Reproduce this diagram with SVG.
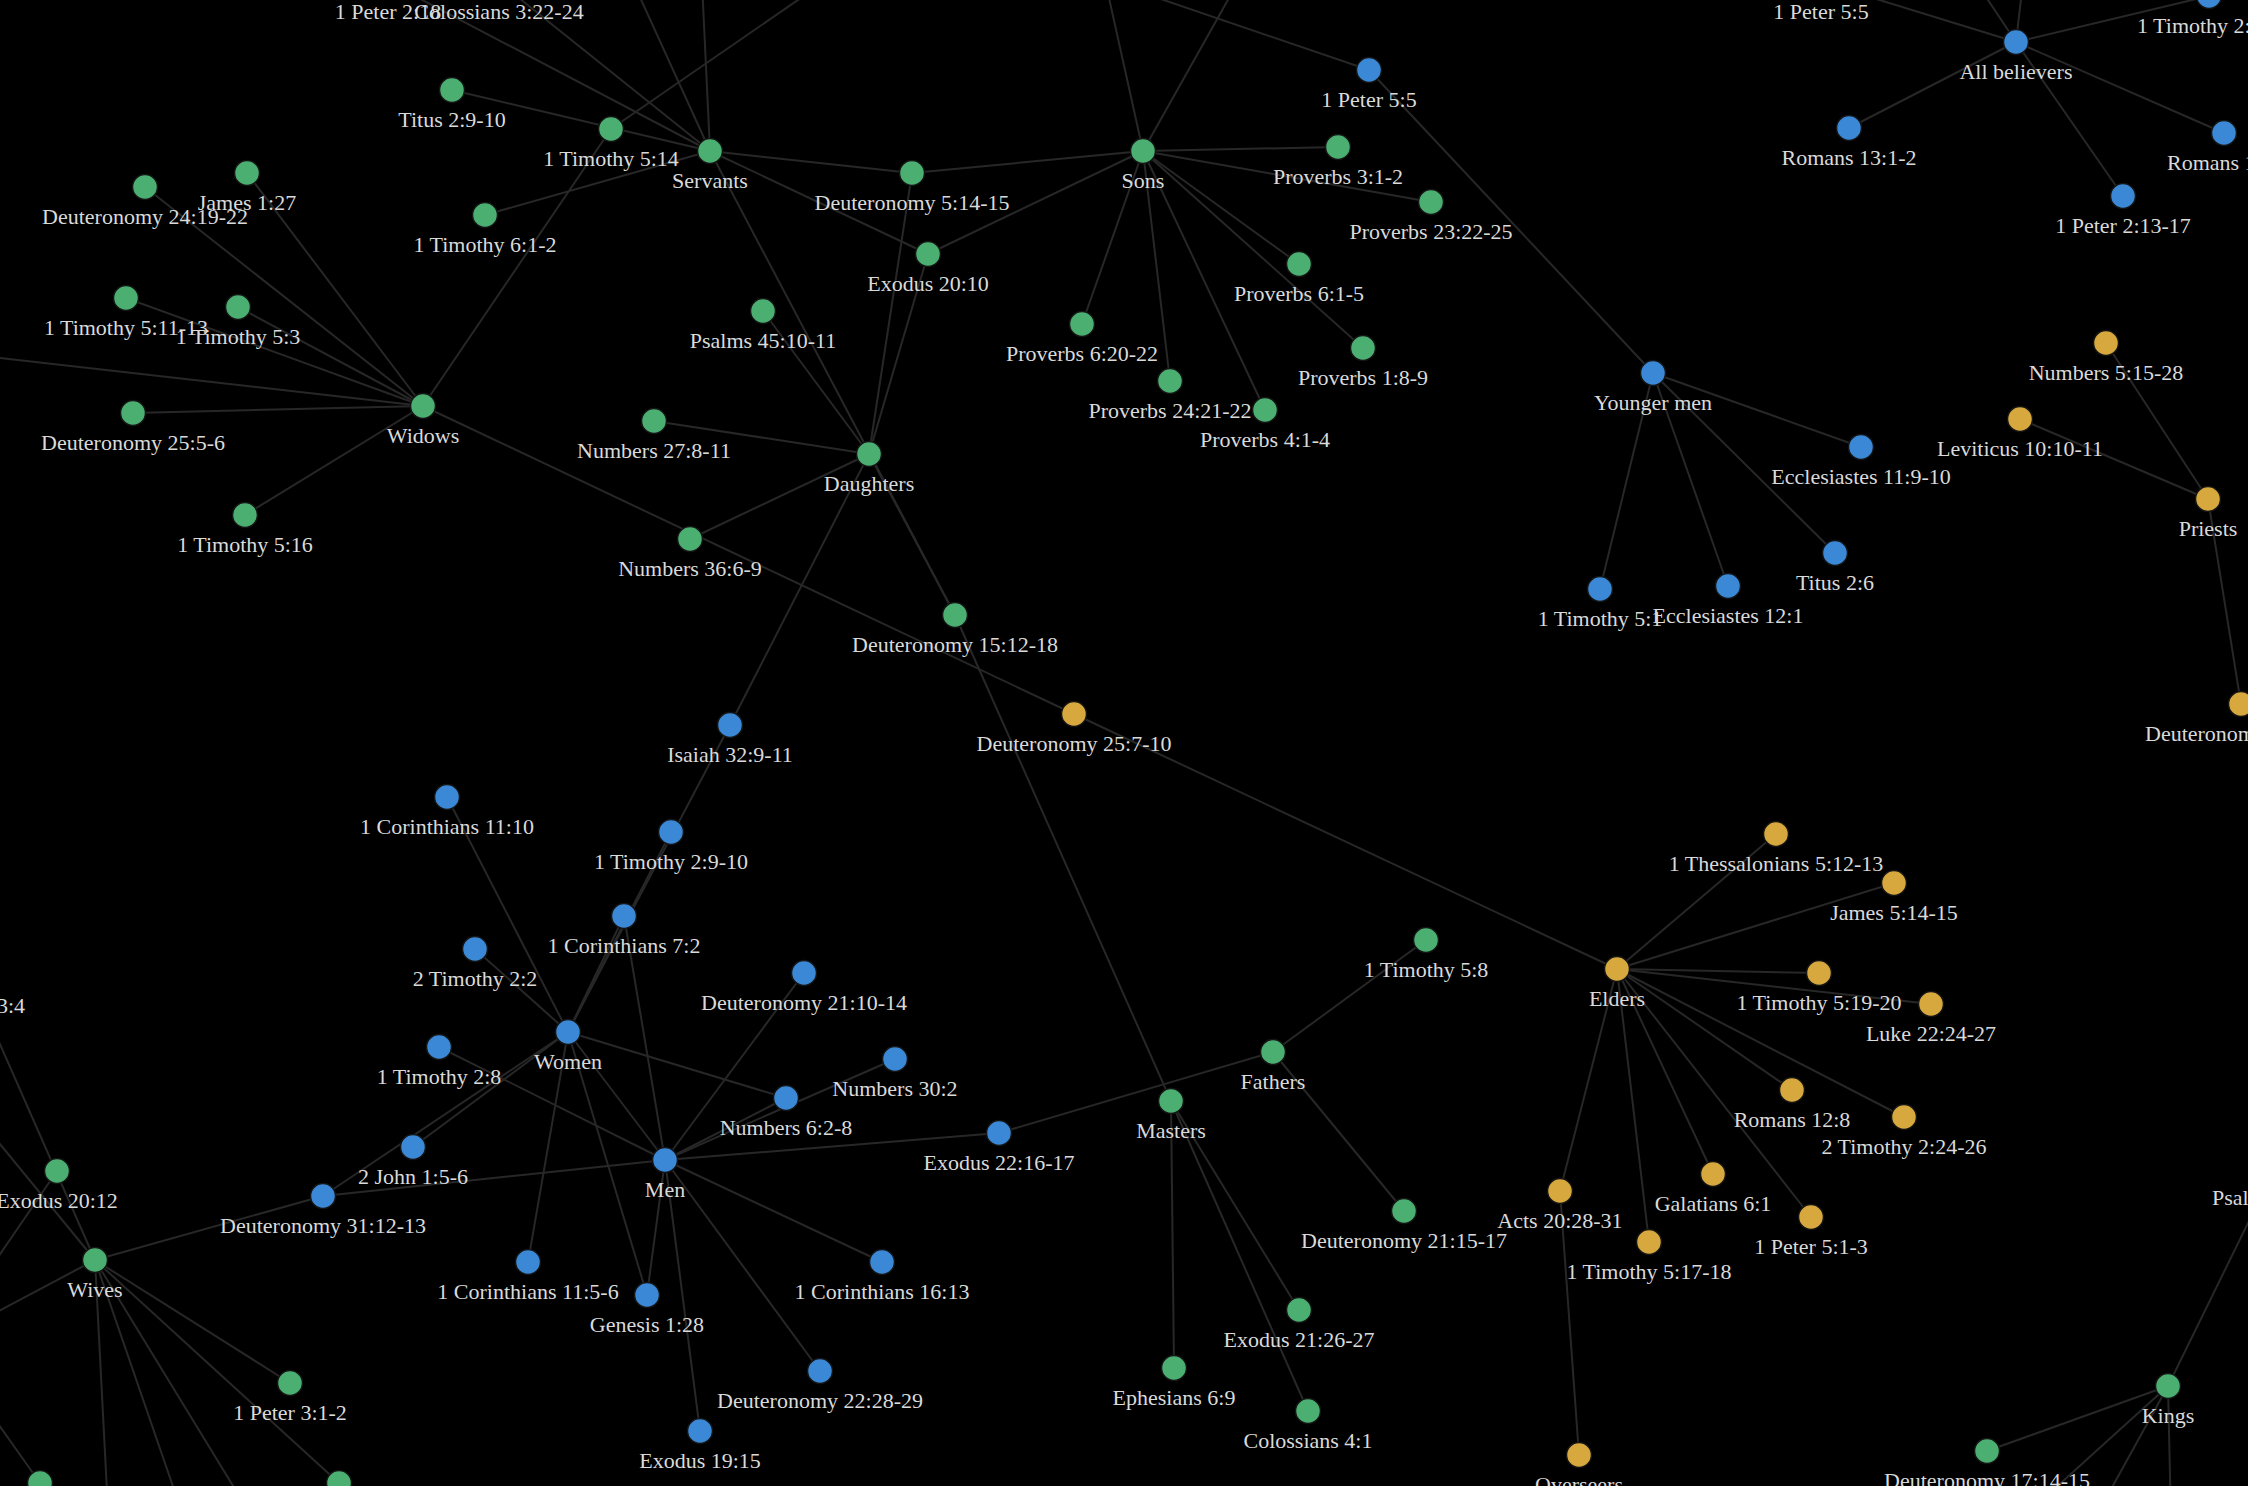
<svg xmlns="http://www.w3.org/2000/svg" width="2248" height="1486" viewBox="0 0 2248 1486">
<style>
.e{stroke:#272727;stroke-width:2;fill:none}
.g{fill:#4caf72;stroke:#151515;stroke-width:1.5}
.b{fill:#3a88d6;stroke:#151515;stroke-width:1.5}
.y{fill:#d6a83e;stroke:#151515;stroke-width:1.5}
.l{font-family:"Liberation Serif","DejaVu Serif",serif;font-size:22px;fill:#dadada;text-anchor:middle}
.s{text-anchor:start}
.n{text-anchor:end}
</style>
<rect width="2248" height="1486" fill="#000"/>
<g id="connectors">
<line class="e" x1="710" y1="151" x2="452" y2="90"/>
<line class="e" x1="710" y1="151" x2="485" y2="215"/>
<line class="e" x1="710" y1="151" x2="388" y2="-18"/>
<line class="e" x1="710" y1="151" x2="499" y2="-18"/>
<line class="e" x1="710" y1="151" x2="633" y2="-18"/>
<line class="e" x1="710" y1="151" x2="702" y2="-18"/>
<line class="e" x1="710" y1="151" x2="912" y2="173"/>
<line class="e" x1="710" y1="151" x2="928" y2="254"/>
<line class="e" x1="710" y1="151" x2="955" y2="615"/>
<line class="e" x1="423" y1="406" x2="247" y2="173"/>
<line class="e" x1="423" y1="406" x2="145" y2="187"/>
<line class="e" x1="423" y1="406" x2="126" y2="298"/>
<line class="e" x1="423" y1="406" x2="238" y2="307"/>
<line class="e" x1="423" y1="406" x2="133" y2="413"/>
<line class="e" x1="423" y1="406" x2="245" y2="515"/>
<line class="e" x1="423" y1="406" x2="-80" y2="349"/>
<line class="e" x1="423" y1="406" x2="611" y2="129"/>
<line class="e" x1="423" y1="406" x2="1074" y2="714"/>
<line class="e" x1="611" y1="129" x2="824" y2="-18"/>
<line class="e" x1="869" y1="454" x2="912" y2="173"/>
<line class="e" x1="869" y1="454" x2="928" y2="254"/>
<line class="e" x1="869" y1="454" x2="763" y2="311"/>
<line class="e" x1="869" y1="454" x2="654" y2="421"/>
<line class="e" x1="869" y1="454" x2="690" y2="539"/>
<line class="e" x1="869" y1="454" x2="955" y2="615"/>
<line class="e" x1="869" y1="454" x2="730" y2="725"/>
<line class="e" x1="1143" y1="151" x2="912" y2="173"/>
<line class="e" x1="1143" y1="151" x2="928" y2="254"/>
<line class="e" x1="1143" y1="151" x2="1338" y2="147"/>
<line class="e" x1="1143" y1="151" x2="1431" y2="202"/>
<line class="e" x1="1143" y1="151" x2="1299" y2="264"/>
<line class="e" x1="1143" y1="151" x2="1363" y2="348"/>
<line class="e" x1="1143" y1="151" x2="1082" y2="324"/>
<line class="e" x1="1143" y1="151" x2="1170" y2="381"/>
<line class="e" x1="1143" y1="151" x2="1265" y2="410"/>
<line class="e" x1="1143" y1="151" x2="1105" y2="-20"/>
<line class="e" x1="1143" y1="151" x2="1238" y2="-18"/>
<line class="e" x1="1369" y1="70" x2="1105" y2="-20"/>
<line class="e" x1="1369" y1="70" x2="1653" y2="373"/>
<line class="e" x1="1653" y1="373" x2="1861" y2="447"/>
<line class="e" x1="1653" y1="373" x2="1835" y2="553"/>
<line class="e" x1="1653" y1="373" x2="1600" y2="589"/>
<line class="e" x1="1653" y1="373" x2="1728" y2="586"/>
<line class="e" x1="2016" y1="42" x2="1821" y2="-18"/>
<line class="e" x1="2016" y1="42" x2="2209" y2="-4"/>
<line class="e" x1="2016" y1="42" x2="1849" y2="128"/>
<line class="e" x1="2016" y1="42" x2="2123" y2="196"/>
<line class="e" x1="2016" y1="42" x2="2224" y2="133"/>
<line class="e" x1="2016" y1="42" x2="1976" y2="-18"/>
<line class="e" x1="2016" y1="42" x2="2023" y2="-18"/>
<line class="e" x1="2208" y1="499" x2="2106" y2="343"/>
<line class="e" x1="2208" y1="499" x2="2020" y2="419"/>
<line class="e" x1="2208" y1="499" x2="2241" y2="704"/>
<line class="e" x1="955" y1="615" x2="1171" y2="1101"/>
<line class="e" x1="1074" y1="714" x2="1617" y2="969"/>
<line class="e" x1="1617" y1="969" x2="1776" y2="834"/>
<line class="e" x1="1617" y1="969" x2="1894" y2="883"/>
<line class="e" x1="1617" y1="969" x2="1819" y2="973"/>
<line class="e" x1="1617" y1="969" x2="1931" y2="1004"/>
<line class="e" x1="1617" y1="969" x2="1792" y2="1090"/>
<line class="e" x1="1617" y1="969" x2="1904" y2="1117"/>
<line class="e" x1="1617" y1="969" x2="1713" y2="1174"/>
<line class="e" x1="1617" y1="969" x2="1560" y2="1191"/>
<line class="e" x1="1617" y1="969" x2="1811" y2="1217"/>
<line class="e" x1="1617" y1="969" x2="1649" y2="1242"/>
<line class="e" x1="1560" y1="1191" x2="1579" y2="1455"/>
<line class="e" x1="1273" y1="1052" x2="1426" y2="940"/>
<line class="e" x1="1273" y1="1052" x2="1404" y2="1211"/>
<line class="e" x1="1273" y1="1052" x2="999" y2="1133"/>
<line class="e" x1="1171" y1="1101" x2="1174" y2="1368"/>
<line class="e" x1="1171" y1="1101" x2="1299" y2="1310"/>
<line class="e" x1="1171" y1="1101" x2="1308" y2="1411"/>
<line class="e" x1="2168" y1="1386" x2="1987" y2="1451"/>
<line class="e" x1="2168" y1="1386" x2="2275" y2="1168"/>
<line class="e" x1="2168" y1="1386" x2="2020" y2="1520"/>
<line class="e" x1="2168" y1="1386" x2="2094" y2="1520"/>
<line class="e" x1="2168" y1="1386" x2="2171" y2="1520"/>
<line class="e" x1="568" y1="1032" x2="730" y2="725"/>
<line class="e" x1="568" y1="1032" x2="671" y2="832"/>
<line class="e" x1="568" y1="1032" x2="624" y2="916"/>
<line class="e" x1="568" y1="1032" x2="447" y2="797"/>
<line class="e" x1="568" y1="1032" x2="475" y2="949"/>
<line class="e" x1="568" y1="1032" x2="413" y2="1147"/>
<line class="e" x1="568" y1="1032" x2="323" y2="1196"/>
<line class="e" x1="568" y1="1032" x2="786" y2="1098"/>
<line class="e" x1="568" y1="1032" x2="665" y2="1160"/>
<line class="e" x1="568" y1="1032" x2="528" y2="1262"/>
<line class="e" x1="568" y1="1032" x2="647" y2="1295"/>
<line class="e" x1="665" y1="1160" x2="624" y2="916"/>
<line class="e" x1="665" y1="1160" x2="804" y2="973"/>
<line class="e" x1="665" y1="1160" x2="895" y2="1059"/>
<line class="e" x1="665" y1="1160" x2="786" y2="1098"/>
<line class="e" x1="665" y1="1160" x2="999" y2="1133"/>
<line class="e" x1="665" y1="1160" x2="882" y2="1262"/>
<line class="e" x1="665" y1="1160" x2="820" y2="1371"/>
<line class="e" x1="665" y1="1160" x2="700" y2="1431"/>
<line class="e" x1="665" y1="1160" x2="647" y2="1295"/>
<line class="e" x1="665" y1="1160" x2="439" y2="1047"/>
<line class="e" x1="665" y1="1160" x2="323" y2="1196"/>
<line class="e" x1="95" y1="1260" x2="323" y2="1196"/>
<line class="e" x1="95" y1="1260" x2="290" y2="1383"/>
<line class="e" x1="95" y1="1260" x2="339" y2="1483"/>
<line class="e" x1="95" y1="1260" x2="109" y2="1530"/>
<line class="e" x1="95" y1="1260" x2="188" y2="1530"/>
<line class="e" x1="95" y1="1260" x2="260" y2="1530"/>
<line class="e" x1="95" y1="1260" x2="-30" y2="976"/>
<line class="e" x1="95" y1="1260" x2="-60" y2="1071"/>
<line class="e" x1="95" y1="1260" x2="-60" y2="1342"/>
<line class="e" x1="57" y1="1171" x2="-60" y2="1342"/>
<line class="e" x1="40" y1="1483" x2="-60" y2="1342"/>
</g>
<g id="n-servants"><circle class="g" cx="710" cy="151" r="12.5"/><text class="l" x="710" y="188">Servants</text></g>
<g id="n-sons"><circle class="g" cx="1143" cy="151" r="12.5"/><text class="l" x="1143" y="188">Sons</text></g>
<g id="n-widows"><circle class="g" cx="423" cy="406" r="12.5"/><text class="l" x="423" y="443">Widows</text></g>
<g id="n-daughters"><circle class="g" cx="869" cy="454" r="12.5"/><text class="l" x="869" y="491">Daughters</text></g>
<g id="n-wives"><circle class="g" cx="95" cy="1260" r="12.5"/><text class="l" x="95" y="1297">Wives</text></g>
<g id="n-masters"><circle class="g" cx="1171" cy="1101" r="12.5"/><text class="l" x="1171" y="1138">Masters</text></g>
<g id="n-fathers"><circle class="g" cx="1273" cy="1052" r="12.5"/><text class="l" x="1273" y="1089">Fathers</text></g>
<g id="n-kings"><circle class="g" cx="2168" cy="1386" r="12.5"/><text class="l" x="2168" y="1423">Kings</text></g>
<g id="n-col3"><circle class="g" cx="499" cy="-18" r="12.5"/><text class="l" x="499" y="19">Colossians 3:22-24</text></g>
<g id="n-1pet218"><circle class="g" cx="388" cy="-18" r="12.5"/><text class="l" x="388" y="19">1 Peter 2:18</text></g>
<g id="n-titus29"><circle class="g" cx="452" cy="90" r="12.5"/><text class="l" x="452" y="127">Titus 2:9-10</text></g>
<g id="n-1tim514"><circle class="g" cx="611" cy="129" r="12.5"/><text class="l" x="611" y="166">1 Timothy 5:14</text></g>
<g id="n-1tim61"><circle class="g" cx="485" cy="215" r="12.5"/><text class="l" x="485" y="252">1 Timothy 6:1-2</text></g>
<g id="n-deut24"><circle class="g" cx="145" cy="187" r="12.5"/><text class="l" x="145" y="224">Deuteronomy 24:19-22</text></g>
<g id="n-james127"><circle class="g" cx="247" cy="173" r="12.5"/><text class="l" x="247" y="210">James 1:27</text></g>
<g id="n-1tim511"><circle class="g" cx="126" cy="298" r="12.5"/><text class="l" x="126" y="335">1 Timothy 5:11-13</text></g>
<g id="n-1tim53"><circle class="g" cx="238" cy="307" r="12.5"/><text class="l" x="238" y="344">1 Timothy 5:3</text></g>
<g id="n-deut255"><circle class="g" cx="133" cy="413" r="12.5"/><text class="l" x="133" y="450">Deuteronomy 25:5-6</text></g>
<g id="n-1tim516"><circle class="g" cx="245" cy="515" r="12.5"/><text class="l" x="245" y="552">1 Timothy 5:16</text></g>
<g id="n-deut514"><circle class="g" cx="912" cy="173" r="12.5"/><text class="l" x="912" y="210">Deuteronomy 5:14-15</text></g>
<g id="n-ex2010"><circle class="g" cx="928" cy="254" r="12.5"/><text class="l" x="928" y="291">Exodus 20:10</text></g>
<g id="n-ps45"><circle class="g" cx="763" cy="311" r="12.5"/><text class="l" x="763" y="348">Psalms 45:10-11</text></g>
<g id="n-num27"><circle class="g" cx="654" cy="421" r="12.5"/><text class="l" x="654" y="458">Numbers 27:8-11</text></g>
<g id="n-num36"><circle class="g" cx="690" cy="539" r="12.5"/><text class="l" x="690" y="576">Numbers 36:6-9</text></g>
<g id="n-deut1512"><circle class="g" cx="955" cy="615" r="12.5"/><text class="l" x="955" y="652">Deuteronomy 15:12-18</text></g>
<g id="n-prov31"><circle class="g" cx="1338" cy="147" r="12.5"/><text class="l" x="1338" y="184">Proverbs 3:1-2</text></g>
<g id="n-prov2322"><circle class="g" cx="1431" cy="202" r="12.5"/><text class="l" x="1431" y="239">Proverbs 23:22-25</text></g>
<g id="n-prov61"><circle class="g" cx="1299" cy="264" r="12.5"/><text class="l" x="1299" y="301">Proverbs 6:1-5</text></g>
<g id="n-prov18"><circle class="g" cx="1363" cy="348" r="12.5"/><text class="l" x="1363" y="385">Proverbs 1:8-9</text></g>
<g id="n-prov620"><circle class="g" cx="1082" cy="324" r="12.5"/><text class="l" x="1082" y="361">Proverbs 6:20-22</text></g>
<g id="n-prov2421"><circle class="g" cx="1170" cy="381" r="12.5"/><text class="l" x="1170" y="418">Proverbs 24:21-22</text></g>
<g id="n-prov41"><circle class="g" cx="1265" cy="410" r="12.5"/><text class="l" x="1265" y="447">Proverbs 4:1-4</text></g>
<g id="n-1tim58"><circle class="g" cx="1426" cy="940" r="12.5"/><text class="l" x="1426" y="977">1 Timothy 5:8</text></g>
<g id="n-deut2115"><circle class="g" cx="1404" cy="1211" r="12.5"/><text class="l" x="1404" y="1248">Deuteronomy 21:15-17</text></g>
<g id="n-ex2126"><circle class="g" cx="1299" cy="1310" r="12.5"/><text class="l" x="1299" y="1347">Exodus 21:26-27</text></g>
<g id="n-eph69"><circle class="g" cx="1174" cy="1368" r="12.5"/><text class="l" x="1174" y="1405">Ephesians 6:9</text></g>
<g id="n-col41"><circle class="g" cx="1308" cy="1411" r="12.5"/><text class="l" x="1308" y="1448">Colossians 4:1</text></g>
<g id="n-ex2012"><circle class="g" cx="57" cy="1171" r="12.5"/><text class="l" x="57" y="1208">Exodus 20:12</text></g>
<g id="n-1pet31"><circle class="g" cx="290" cy="1383" r="12.5"/><text class="l" x="290" y="1420">1 Peter 3:1-2</text></g>
<g id="n-deut1714"><circle class="g" cx="1987" cy="1451" r="12.5"/><text class="l" x="1987" y="1488">Deuteronomy 17:14-15</text></g>
<g id="n-bottom1"><circle class="g" cx="40" cy="1483" r="12.5"/></g>
<g id="n-bottom2"><circle class="g" cx="339" cy="1483" r="12.5"/></g>
<g id="n-left34"><text class="l n" x="25" y="1013">3:4</text></g>
<g id="n-psalm"><text class="l s" x="2212" y="1205">Psalms</text></g>
<g id="n-women"><circle class="b" cx="568" cy="1032" r="12.5"/><text class="l" x="568" y="1069">Women</text></g>
<g id="n-men"><circle class="b" cx="665" cy="1160" r="12.5"/><text class="l" x="665" y="1197">Men</text></g>
<g id="n-younger"><circle class="b" cx="1653" cy="373" r="12.5"/><text class="l" x="1653" y="410">Younger men</text></g>
<g id="n-allbel"><circle class="b" cx="2016" cy="42" r="12.5"/><text class="l" x="2016" y="79">All believers</text></g>
<g id="n-1pet55a"><circle class="b" cx="1369" cy="70" r="12.5"/><text class="l" x="1369" y="107">1 Peter 5:5</text></g>
<g id="n-1pet55b"><circle class="b" cx="1821" cy="-18" r="12.5"/><text class="l" x="1821" y="19">1 Peter 5:5</text></g>
<g id="n-1tim2"><circle class="b" cx="2209" cy="-4" r="12.5"/><text class="l s" x="2137" y="33">1 Timothy 2:</text></g>
<g id="n-rom131"><circle class="b" cx="1849" cy="128" r="12.5"/><text class="l" x="1849" y="165">Romans 13:1-2</text></g>
<g id="n-1pet213"><circle class="b" cx="2123" cy="196" r="12.5"/><text class="l" x="2123" y="233">1 Peter 2:13-17</text></g>
<g id="n-rom1"><circle class="b" cx="2224" cy="133" r="12.5"/><text class="l s" x="2167" y="170">Romans 1</text></g>
<g id="n-eccl11"><circle class="b" cx="1861" cy="447" r="12.5"/><text class="l" x="1861" y="484">Ecclesiastes 11:9-10</text></g>
<g id="n-titus26"><circle class="b" cx="1835" cy="553" r="12.5"/><text class="l" x="1835" y="590">Titus 2:6</text></g>
<g id="n-1tim51"><circle class="b" cx="1600" cy="589" r="12.5"/><text class="l" x="1600" y="626">1 Timothy 5:1</text></g>
<g id="n-eccl12"><circle class="b" cx="1728" cy="586" r="12.5"/><text class="l" x="1728" y="623">Ecclesiastes 12:1</text></g>
<g id="n-isa32"><circle class="b" cx="730" cy="725" r="12.5"/><text class="l" x="730" y="762">Isaiah 32:9-11</text></g>
<g id="n-1cor1110"><circle class="b" cx="447" cy="797" r="12.5"/><text class="l" x="447" y="834">1 Corinthians 11:10</text></g>
<g id="n-1tim29"><circle class="b" cx="671" cy="832" r="12.5"/><text class="l" x="671" y="869">1 Timothy 2:9-10</text></g>
<g id="n-1cor72"><circle class="b" cx="624" cy="916" r="12.5"/><text class="l" x="624" y="953">1 Corinthians 7:2</text></g>
<g id="n-2tim22"><circle class="b" cx="475" cy="949" r="12.5"/><text class="l" x="475" y="986">2 Timothy 2:2</text></g>
<g id="n-deut2110"><circle class="b" cx="804" cy="973" r="12.5"/><text class="l" x="804" y="1010">Deuteronomy 21:10-14</text></g>
<g id="n-1tim28"><circle class="b" cx="439" cy="1047" r="12.5"/><text class="l" x="439" y="1084">1 Timothy 2:8</text></g>
<g id="n-num302"><circle class="b" cx="895" cy="1059" r="12.5"/><text class="l" x="895" y="1096">Numbers 30:2</text></g>
<g id="n-num62"><circle class="b" cx="786" cy="1098" r="12.5"/><text class="l" x="786" y="1135">Numbers 6:2-8</text></g>
<g id="n-2john"><circle class="b" cx="413" cy="1147" r="12.5"/><text class="l" x="413" y="1184">2 John 1:5-6</text></g>
<g id="n-ex2216"><circle class="b" cx="999" cy="1133" r="12.5"/><text class="l" x="999" y="1170">Exodus 22:16-17</text></g>
<g id="n-deut3112"><circle class="b" cx="323" cy="1196" r="12.5"/><text class="l" x="323" y="1233">Deuteronomy 31:12-13</text></g>
<g id="n-1cor115"><circle class="b" cx="528" cy="1262" r="12.5"/><text class="l" x="528" y="1299">1 Corinthians 11:5-6</text></g>
<g id="n-gen128"><circle class="b" cx="647" cy="1295" r="12.5"/><text class="l" x="647" y="1332">Genesis 1:28</text></g>
<g id="n-1cor1613"><circle class="b" cx="882" cy="1262" r="12.5"/><text class="l" x="882" y="1299">1 Corinthians 16:13</text></g>
<g id="n-deut2228"><circle class="b" cx="820" cy="1371" r="12.5"/><text class="l" x="820" y="1408">Deuteronomy 22:28-29</text></g>
<g id="n-ex1915"><circle class="b" cx="700" cy="1431" r="12.5"/><text class="l" x="700" y="1468">Exodus 19:15</text></g>
<g id="n-elders"><circle class="y" cx="1617" cy="969" r="12.5"/><text class="l" x="1617" y="1006">Elders</text></g>
<g id="n-priests"><circle class="y" cx="2208" cy="499" r="12.5"/><text class="l" x="2208" y="536">Priests</text></g>
<g id="n-num515"><circle class="y" cx="2106" cy="343" r="12.5"/><text class="l" x="2106" y="380">Numbers 5:15-28</text></g>
<g id="n-lev10"><circle class="y" cx="2020" cy="419" r="12.5"/><text class="l" x="2020" y="456">Leviticus 10:10-11</text></g>
<g id="n-deutR"><circle class="y" cx="2241" cy="704" r="12.5"/><text class="l s" x="2145" y="741">Deuteronomy</text></g>
<g id="n-deut257"><circle class="y" cx="1074" cy="714" r="12.5"/><text class="l" x="1074" y="751">Deuteronomy 25:7-10</text></g>
<g id="n-1thess"><circle class="y" cx="1776" cy="834" r="12.5"/><text class="l" x="1776" y="871">1 Thessalonians 5:12-13</text></g>
<g id="n-james514"><circle class="y" cx="1894" cy="883" r="12.5"/><text class="l" x="1894" y="920">James 5:14-15</text></g>
<g id="n-1tim519"><circle class="y" cx="1819" cy="973" r="12.5"/><text class="l" x="1819" y="1010">1 Timothy 5:19-20</text></g>
<g id="n-luke22"><circle class="y" cx="1931" cy="1004" r="12.5"/><text class="l" x="1931" y="1041">Luke 22:24-27</text></g>
<g id="n-rom128"><circle class="y" cx="1792" cy="1090" r="12.5"/><text class="l" x="1792" y="1127">Romans 12:8</text></g>
<g id="n-2tim224"><circle class="y" cx="1904" cy="1117" r="12.5"/><text class="l" x="1904" y="1154">2 Timothy 2:24-26</text></g>
<g id="n-gal61"><circle class="y" cx="1713" cy="1174" r="12.5"/><text class="l" x="1713" y="1211">Galatians 6:1</text></g>
<g id="n-acts20"><circle class="y" cx="1560" cy="1191" r="12.5"/><text class="l" x="1560" y="1228">Acts 20:28-31</text></g>
<g id="n-1pet51"><circle class="y" cx="1811" cy="1217" r="12.5"/><text class="l" x="1811" y="1254">1 Peter 5:1-3</text></g>
<g id="n-1tim517"><circle class="y" cx="1649" cy="1242" r="12.5"/><text class="l" x="1649" y="1279">1 Timothy 5:17-18</text></g>
<g id="n-overseers"><circle class="y" cx="1579" cy="1455" r="12.5"/><text class="l" x="1579" y="1492">Overseers</text></g>
</svg>
